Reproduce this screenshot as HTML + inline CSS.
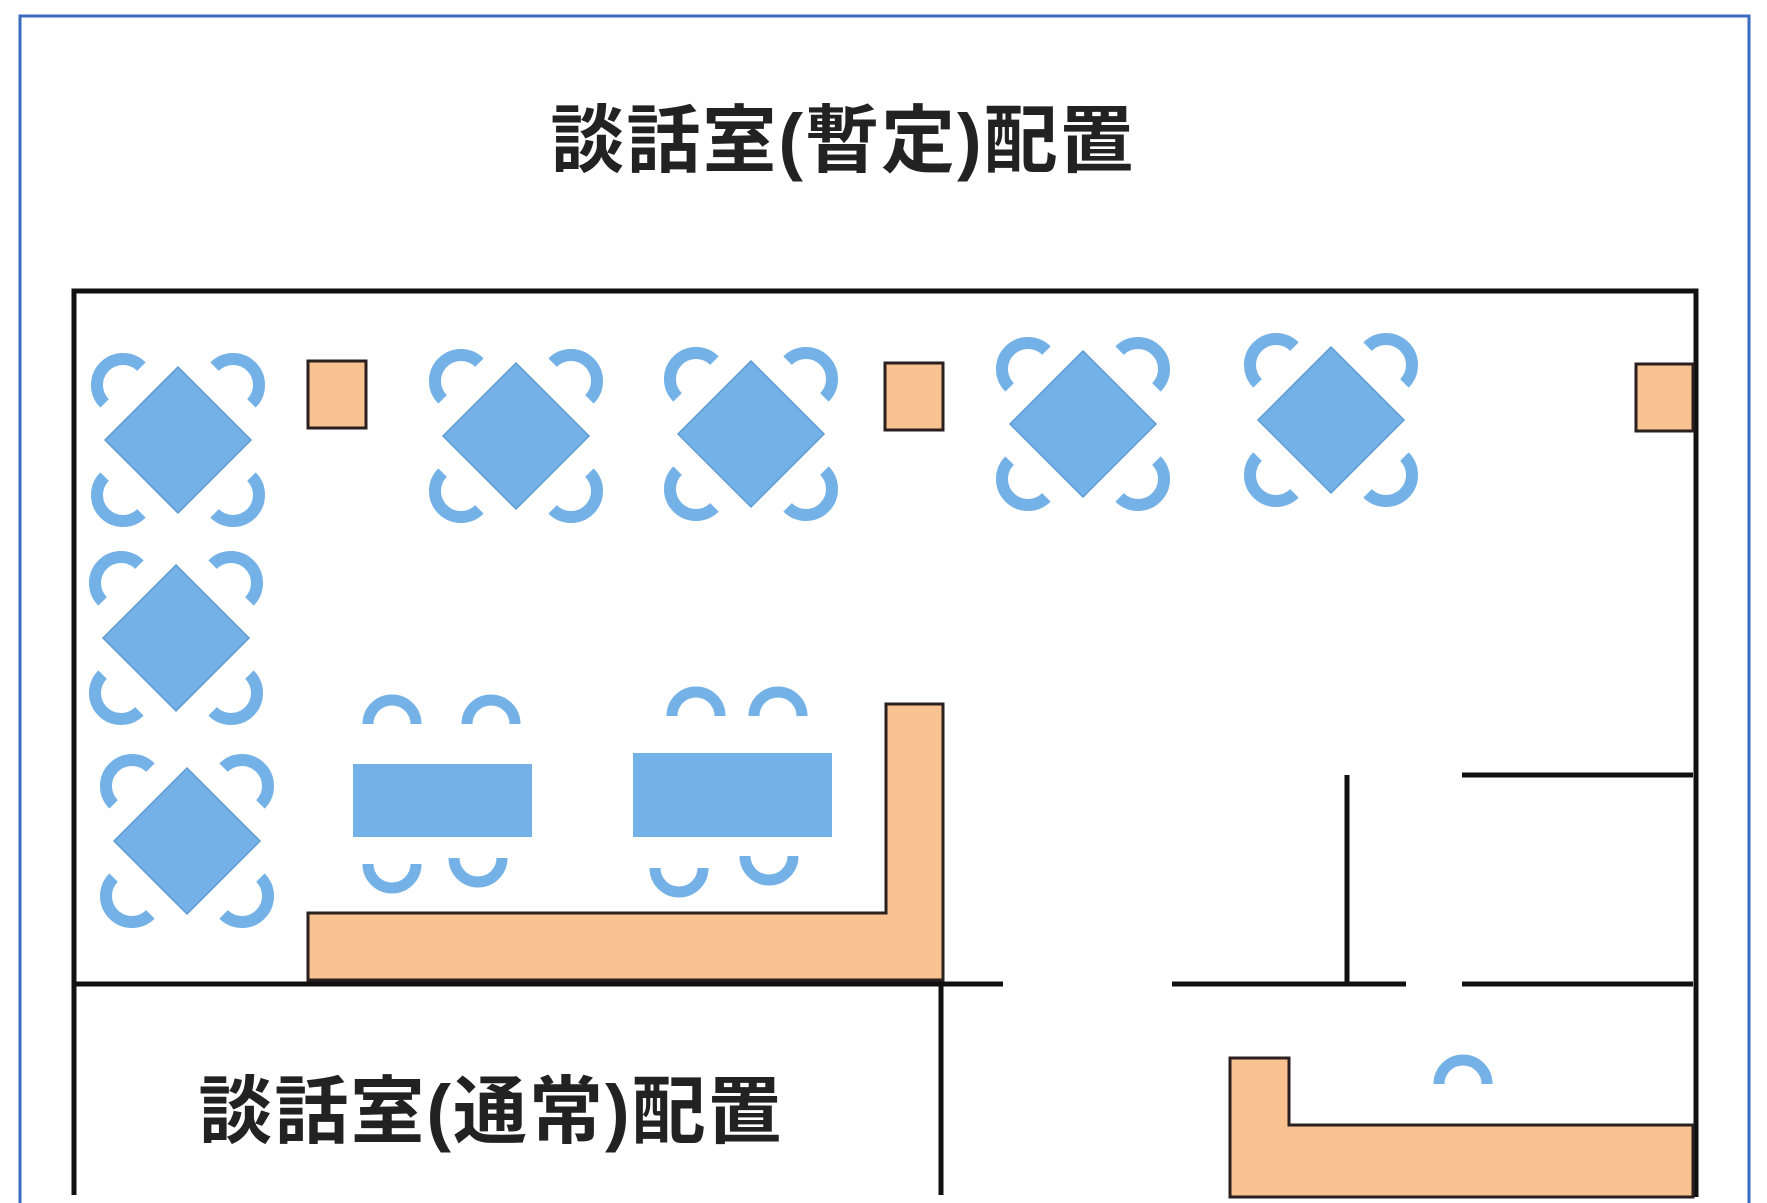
<!DOCTYPE html>
<html><head><meta charset="utf-8"><style>
html,body{margin:0;padding:0;background:#fff;}
svg{display:block}
</style></head><body>
<svg width="1767" height="1203" viewBox="0 0 1767 1203" xmlns="http://www.w3.org/2000/svg">
<defs>
<g id="tb">
<polygon points="0,-73 73,0 0,73 -73,0" fill="#74b1e6" stroke="#5f9bd3" stroke-width="1.5"/>
<g fill="none" stroke="#74b1e6" stroke-width="12">
<path d="M-73.4,-36.6 A26 26 0 0 1 -36.6,-73.4"/>
<path d="M36.6,-73.4 A26 26 0 0 1 73.4,-36.6"/>
<path d="M73.4,36.6 A26 26 0 0 1 36.6,73.4"/>
<path d="M-36.6,73.4 A26 26 0 0 1 -73.4,36.6"/>
</g>
</g>
<path id="cu" d="M-24,2 A24 24 0 0 1 24,2" fill="none" stroke="#74b1e6" stroke-width="11"/>
<path id="cd" d="M-24,-2 A24 24 0 0 0 24,-2" fill="none" stroke="#74b1e6" stroke-width="11"/>
</defs>
<rect x="20" y="16" width="1729" height="1200" fill="none" stroke="#3a6bc0" stroke-width="3"/>
<text x="843" y="166" text-anchor="middle" font-family="'Liberation Sans','Noto Sans CJK JP',sans-serif" font-weight="bold" font-size="74" letter-spacing="2" fill="#222">談話室(暫定)配置</text>

<g stroke="#111" stroke-width="5" fill="none">
<path d="M74,1195 V291 H1696 V1197"/>
<path d="M74,984 H1003"/>
<path d="M1172,984 H1406"/>
<path d="M1462,984 H1693"/>
<path d="M941,984 V1195"/>
<path d="M1347,775 V984"/>
<path d="M1462,775 H1693"/>
</g>

<g fill="#f9c291" stroke="#2a2020" stroke-width="3">
<rect x="308" y="361" width="58" height="67"/>
<rect x="885" y="363" width="58" height="67"/>
<rect x="1636" y="364" width="57" height="67"/>
<path d="M886,704 H943 V980 H308 V913 H886 Z"/>
<path d="M1230,1058 H1289 V1125 H1693 V1197 H1230 Z"/>
</g>

<use href="#tb" x="178" y="440"/>
<use href="#tb" x="516" y="436"/>
<use href="#tb" x="751" y="434"/>
<use href="#tb" x="1083" y="424"/>
<use href="#tb" x="1331" y="420"/>
<use href="#tb" x="176" y="638"/>
<use href="#tb" x="187" y="841"/>

<rect x="353" y="764" width="179" height="73" fill="#74b1e6"/>
<rect x="633" y="753" width="199" height="84" fill="#74b1e6"/>
<use href="#cu" x="392" y="722"/>
<use href="#cu" x="491" y="722"/>
<use href="#cu" x="696" y="714"/>
<use href="#cu" x="778" y="714"/>
<use href="#cd" x="392" y="866"/>
<use href="#cd" x="478" y="860"/>
<use href="#cd" x="679" y="870"/>
<use href="#cd" x="769" y="858"/>
<use href="#cu" x="1463" y="1082"/>

<text x="491" y="1137" text-anchor="middle" font-family="'Liberation Sans','Noto Sans CJK JP',sans-serif" font-weight="bold" font-size="74" letter-spacing="2" fill="#222">談話室(通常)配置</text>
</svg>
</body></html>
